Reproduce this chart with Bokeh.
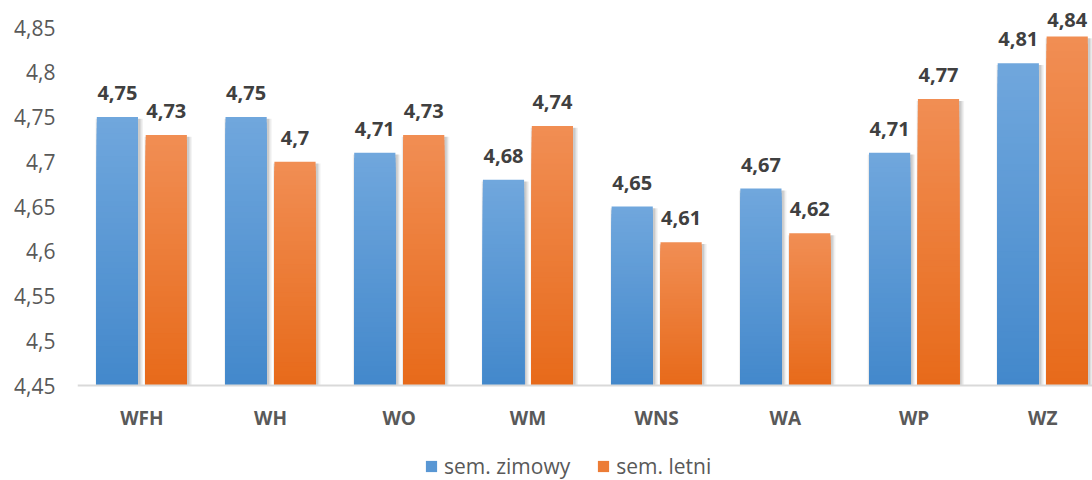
from bokeh.plotting import figure
from bokeh.models import Range1d, FixedTicker, Legend, LegendItem, ColumnDataSource, Span
from bokeh.core.properties import value
from bokeh.embed import file_html
from bokeh.resources import INLINE

categories = ["WFH", "WH", "WO", "WM", "WNS", "WA", "WP", "WZ"]
zimowy = [4.75, 4.75, 4.71, 4.68, 4.65, 4.67, 4.71, 4.81]
letni = [4.73, 4.70, 4.73, 4.74, 4.61, 4.62, 4.77, 4.84]
series_names = ["sem. zimowy", "sem. letni"]
y_ticks = [4.45, 4.5, 4.55, 4.6, 4.65, 4.7, 4.75, 4.8, 4.85]
y_tick_labels = ["4,45", "4,5", "4,55", "4,6", "4,65", "4,7", "4,75", "4,8", "4,85"]
y_min = 4.45

FONT = "Open Sans"
W, H = 1092, 480
LEFT = 77
CAT_PX = 128.7
BAR_W = 0.32
OFFS = [-0.19, 0.19]
TOP_COL = [(0x70, 0xA7, 0xDD), (0xF1, 0x8E, 0x54)]
BOT_COL = [(0x43, 0x88, 0xCB), (0xE7, 0x6A, 0x1A)]

px_per_unit = (385 - 27) / (y_ticks[-1] - y_ticks[0])
y_top = y_ticks[-1] + 27 / px_per_unit
y_bot = y_ticks[0] - (H - 385) / px_per_unit
x_start = -0.5
x_end = x_start + (W - LEFT) / CAT_PX

xs = list(range(len(categories)))

p = figure(x_range=Range1d(x_start, x_end), y_range=Range1d(y_bot, y_top),
           width=W, height=H, output_backend="svg", toolbar_location=None,
           min_border_left=LEFT, min_border_right=0, min_border_top=0, min_border_bottom=0)
p.outline_line_color = None
p.xgrid.grid_line_color = None
p.ygrid.grid_line_color = None
p.background_fill_color = "white"
p.border_fill_color = "white"
p.xaxis.visible = False

def hexcol(c):
    return "#%02x%02x%02x" % tuple(int(round(v)) for v in c)

N = 48
legend_items = []
for s, vals in enumerate([zimowy, letni]):
    bx = [x + OFFS[s] for x in xs]
    # soft shadow
    for extra, alpha, dx in [(0.05, 0.05, 0.014), (0.032, 0.07, 0.012), (0.016, 0.09, 0.01)]:
        src = ColumnDataSource(dict(x=[b + dx for b in bx], top=[v - 0.002 for v in vals]))
        p.vbar(x="x", top="top", bottom=y_min, width=BAR_W + extra, source=src,
               fill_color="black", fill_alpha=alpha, line_color=None)
    # vertical gradient: overlapping bars from the bottom, progressively shorter and darker
    for k in range(N):
        t = 1 - k / N
        tm = 1 - (k + 0.5) / N
        col = tuple(BOT_COL[s][i] + (TOP_COL[s][i] - BOT_COL[s][i]) * tm for i in range(3))
        src = ColumnDataSource(dict(x=bx, top=[y_min + (v - y_min) * t for v in vals]))
        r = p.vbar(x="x", top="top", bottom=y_min, width=BAR_W, source=src,
                   fill_color=hexcol(col), line_color=None)
        if k == N // 2:
            legend_items.append(LegendItem(label=series_names[s], renderers=[r]))
    # value labels (kept inside the chart area at the top, as the original does)
    lab_y = [min(v + 24 / px_per_unit, y_top - 19 / px_per_unit) for v in vals]
    lsrc = ColumnDataSource(dict(x=bx, y=lab_y, t=[("%g" % v).replace(".", ",") for v in vals]))
    p.text(x="x", y="y", text="t", source=lsrc, text_align="center", text_baseline="middle",
           text_font=value(FONT), text_font_style="bold", text_font_size="20px",
           text_color="#404040")

# category axis line and labels
p.add_layout(Span(location=y_min, dimension="width", line_color="#d9d9d9", line_width=2))
csrc = ColumnDataSource(dict(x=xs, y=[y_min] * len(categories), t=categories))
p.text(x="x", y="y", text="t", source=csrc, text_align="center", text_baseline="middle",
       y_offset=32, text_font=value(FONT), text_font_style="bold", text_font_size="19px",
       text_color="#595959")

p.yaxis.ticker = FixedTicker(ticks=y_ticks)
p.yaxis.major_label_overrides = dict(zip(y_ticks, y_tick_labels))
p.yaxis.axis_line_color = None
p.yaxis.major_tick_line_color = None
p.yaxis.minor_tick_line_color = None
p.yaxis.major_label_text_font = FONT
p.yaxis.major_label_text_font_size = "21px"
p.yaxis.major_label_text_color = "#595959"
p.yaxis.major_label_standoff = 16

legend = Legend(items=legend_items, orientation="horizontal", location=(347, 0),
                label_text_font=FONT, label_text_font_size="21px", label_text_color="#595959",
                glyph_width=14, glyph_height=14, label_height=18, spacing=26, label_standoff=6,
                border_line_color=None, background_fill_alpha=0, margin=0, padding=0)
p.add_layout(legend)

open("out.html", "w").write(file_html(p, INLINE))
